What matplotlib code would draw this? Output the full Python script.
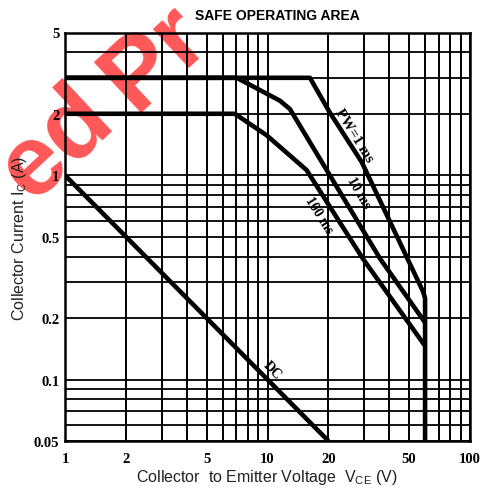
import matplotlib
matplotlib.use("Agg")
import matplotlib.pyplot as plt
from matplotlib.ticker import FixedLocator, NullFormatter, FixedFormatter

# ---- data (V_CE in volts, I_C in amperes) ----
dc_v = [1, 20]
dc_i = [1.0, 0.05]

pw1_v = [1, 16.2, 20.3, 29.2, 58.6, 60, 60]
pw1_i = [3.0, 3.0, 2.03, 1.16, 0.27, 0.25, 0.05]

pw10_v = [1, 7.05, 11.5, 12.9, 36, 60]
pw10_i = [3.0, 3.0, 2.32, 2.11, 0.39, 0.19]

pw100_v = [1, 6.9, 9.9, 15.6, 29.6, 60]
pw100_i = [2.0, 2.0, 1.57, 1.06, 0.39, 0.146]

x_ticks = [1, 2, 5, 10, 20, 50, 100]
x_ticklabels = ["1", "2", "5", "10", "20", "50", "100"]
y_ticks = [0.05, 0.1, 0.2, 0.5, 1, 2, 5]
y_ticklabels = ["0.05", "0.1", "0.2", "0.5", "1", "2", "5"]

x_grid = [1, 2, 3, 4, 5, 6, 7, 8, 9, 10, 20, 30, 40, 50, 60, 70, 80, 90, 100]
y_grid = [0.05, 0.06, 0.07, 0.08, 0.09, 0.1, 0.2, 0.3, 0.4, 0.5, 0.6, 0.7,
          0.8, 0.9, 1, 2, 3, 4, 5]

labels = ["PW=1 ms", "10 ms", "100 ms", "DC"]
label_pos = [(26.9, 1.58), (28.3, 0.83), (18.0, 0.64), (10.6, 0.1115)]
label_rot = [-58, -60, -58, -46]
label_size = [10.5, 10, 10, 10]

W, H = 481, 489
fig = plt.figure(figsize=(W / 100, H / 100), dpi=100)
ax = fig.add_axes([65 / W, 1 - 442 / H, (470 - 65) / W, (442 - 33.5) / H])
ax.set_facecolor("none")
ax.set_xscale("log")
ax.set_yscale("log")
ax.set_xlim(1, 100)
ax.set_ylim(0.05, 5)

# grid lines
for v in x_grid:
    ax.axvline(v, color="black", lw=1.4, zorder=1)
for v in y_grid:
    ax.axhline(v, color="black", lw=1.3, zorder=1)

# curves
for xs, ys in [(dc_v, dc_i), (pw1_v, pw1_i), (pw10_v, pw10_i), (pw100_v, pw100_i)]:
    ax.plot(xs, ys, color="black", lw=3.3, solid_joinstyle="round",
            solid_capstyle="butt", zorder=3, clip_on=True)

for t, (x, y), r, s in zip(labels, label_pos, label_rot, label_size):
    ax.text(x, y, t, rotation=r, ha="center", va="center",
            fontsize=s, fontweight="bold", family="Liberation Serif", zorder=4)

ax.xaxis.set_major_locator(FixedLocator(x_ticks))
ax.xaxis.set_major_formatter(FixedFormatter(x_ticklabels))
ax.xaxis.set_minor_locator(FixedLocator([]))
ax.xaxis.set_minor_formatter(NullFormatter())
ax.yaxis.set_major_locator(FixedLocator(y_ticks))
ax.yaxis.set_major_formatter(FixedFormatter(y_ticklabels))
ax.yaxis.set_minor_locator(FixedLocator([]))
ax.yaxis.set_minor_formatter(NullFormatter())
ax.tick_params(length=0, labelsize=10.5, pad=4)
ax.tick_params(axis="x", pad=8)
for lab in ax.get_xticklabels() + ax.get_yticklabels():
    lab.set_fontweight("bold")
    lab.set_family("Liberation Serif")
for s in ax.spines.values():
    s.set_linewidth(1.8)
    s.set_zorder(5)

fig.text(277 / W, 1 - 16 / H, "SAFE OPERATING AREA", ha="center", va="center",
         fontsize=10, fontweight="bold", family="Liberation Sans")
fig.text(267 / W, 1 - 478 / H, r"Collector  to Emitter Voltage  V$\mathregular{_{CE}}$ (V)",
         ha="center", va="center", fontsize=11.5, family="Liberation Sans", color="#222222")
fig.text(20 / W, 1 - 238 / H, r"Collector Current I$\mathregular{_{C}}$ (A)",
         ha="center", va="center", rotation=90, fontsize=11.5, family="Liberation Sans",
         color="#222222")

# red watermark (partially visible, cropped by the image edge as in the reference)
wm = dict(rotation=43, rotation_mode="anchor", ha="left", va="baseline",
          fontsize=72, fontweight="bold", family="Liberation Sans",
          color="#ff4545", alpha=0.9, zorder=-1)
fig.text(31 / W, 1 - 203 / H, "ed", **wm)
fig.text(134 / W, 1 - 113 / H, "Pr", **wm)

fig.savefig("out.png", dpi=100)
